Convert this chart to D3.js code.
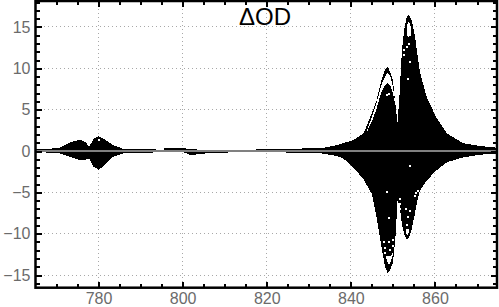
<!DOCTYPE html>
<html>
<head>
<meta charset="utf-8">
<script src="https://cdn.jsdelivr.net/npm/d3@7"></script>
<style>
  body { margin: 0; background: #fff; }
  svg { display: block; }
  text { font-family: "Liberation Sans", Arial, sans-serif; }
</style>
</head>
<body>
<script>
// outer envelope of the traces
var wavelength = [765, 768, 770.8, 773.2, 775.6, 776.8, 777.8, 778.8, 780, 781.1, 783.5, 785.9, 790, 795.4, 795.8, 800, 802, 805.7, 815, 822.4, 827, 829.8, 833, 834.2, 836.6, 838.1, 840.6, 843, 845, 846.1, 847.3, 848.1, 848.8, 849.4, 850, 850.6, 851.1, 851.6, 852, 852.3, 852.8, 853.3, 853.8, 854.5, 855.3, 855.8, 856.4, 858, 860.2, 862.8, 866.7, 870.7, 874.7];
var upperEnvelope = [0.2, 0.25, 0.4, 1.05, 1.37, 1.12, 0.52, 1.45, 1.8, 1.53, 0.72, 0.25, 0.25, 0.15, 0.36, 0.36, 0.2, 0.15, 0.15, 0.25, 0.25, 0.36, 0.36, 0.45, 0.7, 0.93, 1.33, 2.1, 4.6, 6.1, 8.6, 9.8, 10.15, 9.5, 8.6, 5.6, 3.5, 7, 11, 13, 15, 16.2, 16.5, 15.8, 13.7, 11.8, 9.6, 6.6, 4.15, 2.15, 0.95, 0.6, 0.4];
var lowerEnvelope = [-0.1, -0.2, -0.3, -0.7, -1.13, -1.05, -0.9, -1.9, -2.25, -1.9, -0.7, -0.3, -0.28, -0.1, -0.1, -0.12, -0.5, -0.28, -0.1, -0.1, -0.28, -0.28, -0.3, -0.4, -0.6, -0.85, -2, -3.4, -5.2, -8, -11.6, -14, -14.8, -14.3, -13.5, -10.5, -6, -6.6, -8.4, -9.2, -10.3, -10.7, -10.5, -9.4, -7.4, -6, -4.8, -3.6, -2.4, -1.37, -0.77, -0.45, -0.3];

// white gaps between traces: wavelength, gap top, gap bottom
var gapAWave = [843.8, 845, 846, 847, 847.6, 848.2, 848.8, 849.4, 850, 850.4];
var gapATop = [2.5, 4.1, 5.6, 7.5, 8.4, 9.1, 9.5, 9, 7.8, 6.3];
var gapABottom = [2.3, 3.6, 4.9, 6.7, 7.5, 8, 8.2, 7.9, 7, 6];
var gapBWave = [853.3, 853.8, 854.3];
var gapBTop = [15.2, 15.7, 15];
var gapBBottom = [14, 13.8, 14];
var gapCWave = [848.3, 848.7, 849.1, 849.5, 850];
var gapCTop = [-12.6, -12.7, -12.7, -12.7, -12.3];
var gapCBottom = [-12.8, -13.4, -13.8, -13.4, -12.5];
var gapDWave = [853, 853.4, 853.8];
var gapDTop = [-9.5, -9.4, -9.5];
var gapDBottom = [-9.7, -10.2, -9.8];

// small white specks left between the traces
var speckWave = [780, 848.6, 849.1, 852.6, 852.6, 853.4, 853.6, 853.9, 854, 848.5, 849, 849, 849.4, 848, 848.1, 848.2, 850, 850, 851.7, 851.7, 851.7, 851.7, 853.1, 853.3, 853.5, 854, 854, 855.2, 855.6, 856];
var speckValue = [1.3, 6.8, 6.9, 12.2, 11.6, 12.6, 8.7, 13, 10.8, -5, -8.1, -11, -12, -11, -11.7, -12.3, -10.8, -11.5, -5.8, -6.4, -7, -7.6, -7, -9, -8, -1.85, -7.2, -5.5, -5.1, -4.8];

var xMajor = [780, 800, 820, 840, 860];
var yMajor = [-15, -10, -5, 0, 5, 10, 15];
var xMinor = d3.range(770, 875, 5);
var yMinor = d3.range(-16, 19, 1);

var title = "\u0394OD";

var svgwidth = 499, svgheight = 307;
var frame = { left: 35.5, right: 497, top: 1, bottom: 287.7 };

var x = d3.scaleLinear().domain([765.02, 874.75]).range([frame.left, frame.right]);
var y = d3.scaleLinear().domain([18.14, -16.53]).range([frame.top, frame.bottom]);

var svg = d3.select("body").append("svg")
    .attr("width", svgwidth)
    .attr("height", svgheight);

// dotted grid
svg.append("g").selectAll("line").data(xMajor).enter().append("line")
    .attr("x1", function(d) { return x(d); })
    .attr("x2", function(d) { return x(d); })
    .attr("y1", frame.top)
    .attr("y2", frame.bottom);
svg.append("g").selectAll("line").data(yMajor.filter(function(d) { return d != 0; })).enter().append("line")
    .attr("x1", frame.left)
    .attr("x2", frame.right)
    .attr("y1", function(d) { return y(d); })
    .attr("y2", function(d) { return y(d); });
svg.selectAll("g line")
    .attr("stroke", "#a8a8a8")
    .attr("stroke-width", 1)
    .attr("stroke-dasharray", "1,3")
    .attr("shape-rendering", "crispEdges");

var marks = svg.append("g").attr("shape-rendering", "crispEdges");

function band(waves, tops, bottoms, colour) {
    marks.append("path")
        .attr("fill", colour)
        .attr("d", d3.area()
            .x(function(d) { return x(d); })
            .y0(function(d, i) { return y(bottoms[i]); })
            .y1(function(d, i) { return y(tops[i]); })(waves));
}
band(wavelength, upperEnvelope, lowerEnvelope, "#000");
band(gapAWave, gapATop, gapABottom, "#fff");
band(gapBWave, gapBTop, gapBBottom, "#fff");
band(gapCWave, gapCTop, gapCBottom, "#fff");
band(gapDWave, gapDTop, gapDBottom, "#fff");

marks.selectAll("rect").data(speckWave).enter().append("rect")
    .attr("x", function(d) { return x(d) - 1; })
    .attr("y", function(d, i) { return y(speckValue[i]) - 1; })
    .attr("width", 2)
    .attr("height", 2)
    .attr("fill", "#fff");

// axis line through zero
svg.append("line")
    .attr("x1", frame.left)
    .attr("x2", frame.right)
    .attr("y1", y(0))
    .attr("y2", y(0))
    .attr("stroke", "#808080")
    .attr("stroke-width", 2)
    .attr("shape-rendering", "crispEdges");

// inward ticks on all four sides, d3 negative tick size points them inside
function addTicks(axis, transform, values, size) {
    var g = svg.append("g")
        .attr("transform", transform)
        .call(axis.tickValues(values).tickSize(-size).tickFormat(""));
    g.select(".domain").remove();
    g.selectAll("line").attr("stroke", "#000").attr("stroke-width", 2).attr("shape-rendering", "crispEdges");
    g.selectAll("text").remove();
}
var bottom = "translate(0," + frame.bottom + ")", top_ = "translate(0," + frame.top + ")";
var left = "translate(" + frame.left + ",0)", right = "translate(" + frame.right + ",0)";
addTicks(d3.axisBottom(x), bottom, xMinor, 4);
addTicks(d3.axisTop(x), top_, xMinor, 4);
addTicks(d3.axisLeft(y), left, yMinor, 4);
addTicks(d3.axisRight(y), right, yMinor, 4);
addTicks(d3.axisBottom(x), bottom, xMajor, 6);
addTicks(d3.axisTop(x), top_, xMajor, 6);
addTicks(d3.axisLeft(y), left, yMajor, 6);
addTicks(d3.axisRight(y), right, yMajor, 6);

svg.append("rect")
    .attr("x", frame.left)
    .attr("y", frame.top)
    .attr("width", frame.right - frame.left)
    .attr("height", frame.bottom - frame.top)
    .attr("fill", "none")
    .attr("stroke", "#000")
    .attr("stroke-width", 2.5);

// tick labels
var xLabels = d3.axisBottom(x).tickValues(xMajor).tickSize(0).tickPadding(5);
var gx = svg.append("g").attr("transform", bottom).call(xLabels);
var yLabels = d3.axisLeft(y).tickValues(yMajor).tickSize(0).tickPadding(5)
    .tickFormat(function(d) { return d < 0 ? "\u2212" + (-d) : d; });
var gy = svg.append("g").attr("transform", left).call(yLabels);
[gx, gy].forEach(function(g) {
    g.select(".domain").remove();
    g.selectAll("text")
        .attr("fill", "#6b6b6b")
        .style("font-family", '"Liberation Sans", Arial, sans-serif')
        .style("font-size", "16px");
});

svg.append("text")
    .attr("x", x(819.6))
    .attr("y", 25)
    .attr("text-anchor", "middle")
    .attr("fill", "#000")
    .style("font-size", "24px")
    .text(title);
</script>
</body>
</html>
